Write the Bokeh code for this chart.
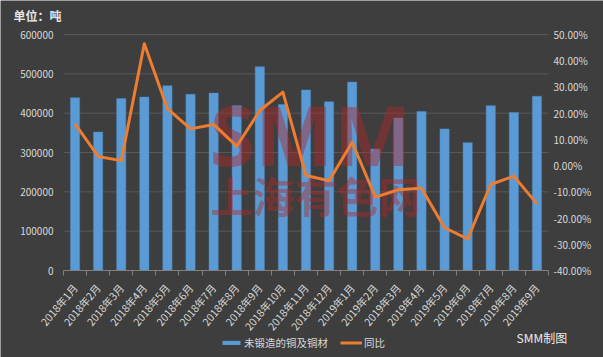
from bokeh.plotting import figure
from bokeh.models import (Range1d, LinearAxis, FixedTicker, PrintfTickFormatter,
                          NumeralTickFormatter, Legend, LegendItem, Label, ColumnDataSource)
from bokeh.embed import file_html
from bokeh.resources import INLINE

months = ["2018年1月", "2018年2月", "2018年3月", "2018年4月", "2018年5月", "2018年6月",
          "2018年7月", "2018年8月", "2018年9月", "2018年10月", "2018年11月", "2018年12月",
          "2019年1月", "2019年2月", "2019年3月", "2019年4月", "2019年5月", "2019年6月",
          "2019年7月", "2019年8月", "2019年9月"]
volume = [439000, 352000, 437000, 441000, 470000, 448000, 451000, 419000, 518000, 422000,
          459000, 429000, 479000, 309000, 388000, 404000, 360000, 325000, 419000, 402000, 443000]
yoy = [15.9, 3.5, 1.9, 46.5, 21.7, 14.0, 15.7, 7.4, 21.0, 28.0,
       -3.8, -5.8, 8.9, -12.0, -9.2, -8.6, -23.7, -27.9, -7.2, -4.0, -14.6]
left_ticks = [0, 100000, 200000, 300000, 400000, 500000, 600000]
right_ticks = [-40, -30, -20, -10, 0, 10, 20, 30, 40, 50]
series_names = ["未锻造的铜及铜材", "同比"]

FONT = "Noto Sans CJK SC"
TXT = "#d9d9d9"
BG = "#3e3e3e"

# page geometry (pixels): plot box inside a full-canvas frame
W, H = 603, 357
PL, PR, PT, PB = 63, 548, 34, 270
n = len(months)
xppu = (PR - PL) / n
x0, x1 = -0.5 - PL / xppu, n - 0.5 + (W - PR) / xppu
lo, hi = left_ticks[0], left_ticks[-1]
yppu = (PB - PT) / (hi - lo)
y0, y1 = lo - (H - PB) / yppu, hi + PT / yppu
rlo, rhi = right_ticks[0], right_ticks[-1]
rppu = (PB - PT) / (rhi - rlo)
r0, r1 = rlo - (H - PB) / rppu, rhi + PT / rppu

idx = list(range(n))
src = ColumnDataSource(dict(x=idx, v=volume, y=yoy))

p = figure(width=W, height=H, output_backend="svg", toolbar_location=None,
           x_range=Range1d(x0, x1), y_range=Range1d(y0, y1), min_border=0,
           x_axis_location=None, y_axis_location=None, title_location=None)
p.background_fill_color = BG
p.border_fill_color = BG
p.outline_line_color = None
p.xgrid.visible = False
p.ygrid.visible = False
p.extra_y_ranges = {"pct": Range1d(r0, r1)}

# horizontal gridlines limited to the plot box
p.segment(x0=[-0.5] * (len(left_ticks) - 1), x1=[n - 0.5] * (len(left_ticks) - 1),
          y0=left_ticks[1:], y1=left_ticks[1:], line_color="#595959", line_width=1)

bars = p.vbar(x="x", top="v", width=0.4, source=src, fill_color="#5b9bd5",
              line_color="#4a88c4", line_width=0.5)
line = p.line(x="x", y="y", source=src, y_range_name="pct", line_color="#ed7d31",
              line_width=3, line_join="round", level="overlay")

# watermark
p.add_layout(Label(x=209, y=H - 133, x_units="screen", y_units="screen", text="SMM",
                   text_font="Open Sans", text_font_size="83px", text_font_style="bold",
                   text_color="#b02828", text_alpha=0.45, text_baseline="middle"))
p.add_layout(Label(x=210, y=H - 194, x_units="screen", y_units="screen", text="上海有色网",
                   text_font=FONT, text_font_size="42px", text_font_style="bold",
                   text_color="#b02828", text_alpha=0.45, text_baseline="middle"))

# x axis at value 0
xa = LinearAxis(fixed_location=0, bounds=(-0.5, n - 0.5),
                ticker=FixedTicker(ticks=idx, minor_ticks=[i - 0.5 for i in range(n + 1)]))
xa.major_label_overrides = {i: m for i, m in enumerate(months)}
xa.major_label_orientation = 0.87
xa.major_tick_line_color = None
xa.major_tick_out = 0
xa.major_tick_in = 0
xa.minor_tick_line_color = "#808080"
xa.minor_tick_in = 0
xa.minor_tick_out = 5
xa.axis_line_color = "#808080"
xa.major_label_standoff = 10
xa.major_label_text_font = FONT
xa.major_label_text_font_size = "10.5px"
xa.major_label_text_color = TXT
p.add_layout(xa, "below")

# left axis
ya = LinearAxis(fixed_location=-0.5, bounds=(lo, hi), ticker=FixedTicker(ticks=left_ticks),
                formatter=NumeralTickFormatter(format="0"))
ya.axis_line_color = None
ya.major_tick_line_color = None
ya.major_tick_out = 0
ya.minor_tick_line_color = None
ya.major_label_standoff = 10
ya.major_label_text_font = FONT
ya.major_label_text_font_size = "10px"
ya.major_label_text_color = TXT
p.add_layout(ya, "left")

# right axis
ra = LinearAxis(y_range_name="pct", fixed_location=n - 0.5, bounds=(rlo, rhi),
                ticker=FixedTicker(ticks=right_ticks),
                formatter=PrintfTickFormatter(format="%.2f%%"))
ra.axis_line_color = None
ra.major_tick_line_color = None
ra.major_tick_out = 0
ra.minor_tick_line_color = None
ra.major_label_standoff = 5
ra.major_label_text_font = FONT
ra.major_label_text_font_size = "10px"
ra.major_label_text_color = TXT
p.add_layout(ra, "right")

legend = Legend(items=[LegendItem(label=series_names[0], renderers=[bars]),
                       LegendItem(label=series_names[1], renderers=[line])],
                location=(220, 7), orientation="horizontal",
                background_fill_alpha=0, border_line_alpha=0,
                glyph_width=22, glyph_height=5, label_standoff=2, spacing=12,
                padding=0, margin=0, label_text_font=FONT, label_text_font_size="10.5px",
                label_text_color=TXT)
p.add_layout(legend)

p.add_layout(Label(x=13, y=H - 15, x_units="screen", y_units="screen", text="单位：吨",
                   text_font=FONT, text_font_size="12px", text_font_style="bold",
                   text_color="#e6e6e6", text_baseline="middle"))
p.add_layout(Label(x=516, y=H - 337, x_units="screen", y_units="screen", text="SMM制图",
                   text_font=FONT, text_font_size="12px",
                   text_color="#ececec", text_baseline="middle"))

open("out.html", "w").write(file_html(p, INLINE))
